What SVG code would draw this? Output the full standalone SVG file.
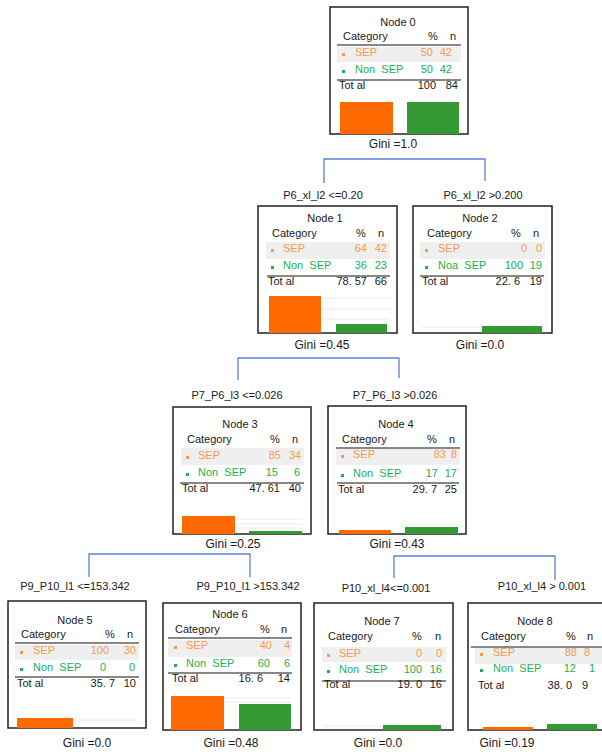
<svg xmlns="http://www.w3.org/2000/svg" width="602" height="752" viewBox="0 0 602 752">
<style>
text{font-family:"Liberation Sans",Arial,sans-serif;font-size:11px;fill:#1a1a1a}
.m{text-anchor:middle}
.e{text-anchor:end}
.sep{fill:#f59a4e}
.non{fill:#1cb050}
.box{fill:#fff;stroke:#222;stroke-width:1.5}
.row{fill:#efefef}
.ln{stroke:#111;stroke-width:1.2}
.ob{fill:#ff6a00}
.gb{fill:#339933}
.bo{fill:#f59a4e}
.bn{fill:#1cb050}
.grid{stroke:#ececec;stroke-width:1}
.conn{fill:none;stroke:#5b82d6;stroke-width:1.3}
.gini{font-size:12px}
</style>
<rect width="602" height="752" fill="#fff"/>
<g id="connectors">
<path class="conn" d="M324,183 V159 H485 V181"/>
<path class="conn" d="M238,380 V358 H399 V378"/>
<path class="conn" d="M89,577 V554 H250 V577"/>
<path class="conn" d="M394,578 V556 H555 V580"/>
<text class="m" x="323" y="199">P6_xl_l2 &lt;=0.20</text>
<text class="m" x="483" y="199">P6_xl_l2 &gt;0.200</text>
<text class="m" x="237" y="399">P7_P6_l3 &lt;=0.026</text>
<text class="m" x="395" y="399">P7_P6_l3 &gt;0.026</text>
<text class="m" x="75" y="590">P9_P10_l1 &lt;=153.342</text>
<text class="m" x="248" y="590">P9_P10_l1 &gt;153.342</text>
<text class="m" x="386" y="592">P10_xl_l4&lt;=0.001</text>
<text class="m" x="542" y="590">P10_xl_l4 &gt; 0.001</text>
</g>
<g id="node0" transform="translate(330,7)">
<rect class="box" x="0" y="0" width="138" height="127"/>
<text class="m" x="68" y="19">Node 0</text>
<text x="13" y="33">Category</text><text class="m" x="103" y="33">%</text><text class="m" x="123" y="33">n</text>
<line class="ln" x1="7" y1="38" x2="131" y2="38"/>
<rect class="row" x="7" y="40" width="124" height="15"/>
<rect class="bo" x="12" y="46" width="3" height="3"/><text class="sep" x="25" y="49">SEP</text><text class="sep e" x="103" y="49">50</text><text class="sep e" x="122" y="49">42</text>
<rect class="bn" x="12" y="63" width="3" height="3"/><text class="non" x="25" y="66" xml:space="preserve">Non  SEP</text><text class="non e" x="103" y="66">50</text><text class="non e" x="122" y="66">42</text>
<line class="ln" x1="7" y1="73" x2="131" y2="73"/>
<text x="9" y="82">Tot al</text><text class="e" x="106" y="82">100</text><text class="e" x="128" y="82">84</text>
<rect class="ob" x="10" y="95" width="53" height="32"/>
<rect class="gb" x="77" y="95" width="52" height="32"/>
<text class="m gini" x="63" y="141">Gini =1.0</text>
</g>
<g id="node1" transform="translate(258,206)">
<rect class="box" x="0" y="0" width="139" height="127"/>
<text class="m" x="67" y="16">Node 1</text>
<text x="14" y="31">Category</text><text class="m" x="103" y="31">%</text><text class="m" x="123" y="31">n</text>
<rect class="row" x="8" y="36" width="124" height="17"/>
<rect class="bo" x="13" y="43" width="3" height="3"/><text class="sep" x="25" y="46">SEP</text><text class="sep e" x="109" y="46">64</text><text class="sep e" x="129" y="46">42</text>
<rect class="bn" x="13" y="60" width="3" height="3"/><text class="non" x="25" y="63" xml:space="preserve">Non  SEP</text><text class="non e" x="109" y="63">36</text><text class="non e" x="129" y="63">23</text>
<line class="ln" x1="9" y1="70" x2="132" y2="70"/>
<text x="10" y="79">Tot al</text><text class="e" x="109" y="79">78. 57</text><text class="e" x="129" y="79">66</text>
<line class="grid" x1="63" y1="92" x2="132" y2="92"/><line class="grid" x1="63" y1="103" x2="132" y2="103"/><line class="grid" x1="63" y1="113" x2="132" y2="113"/>
<rect class="ob" x="11" y="90" width="52" height="37"/>
<rect class="gb" x="78" y="118" width="51" height="9"/>
<text class="m gini" x="64" y="143">Gini =0.45</text>
</g>
<g id="node2" transform="translate(413,206)">
<rect class="box" x="0" y="0" width="139" height="127"/>
<text class="m" x="67" y="16">Node 2</text>
<text x="14" y="31">Category</text><text class="m" x="103" y="31">%</text><text class="m" x="123" y="31">n</text>
<rect class="row" x="7" y="36" width="125" height="17"/>
<rect class="bo" x="12" y="43" width="3" height="3"/><text class="sep" x="25" y="46">SEP</text><text class="sep e" x="114" y="46">0</text><text class="sep e" x="129" y="46">0</text>
<rect class="bn" x="12" y="60" width="3" height="3"/><text class="non" x="25" y="63" xml:space="preserve">Noa  SEP</text><text class="non e" x="110" y="63">100</text><text class="non e" x="129" y="63">19</text>
<line class="ln" x1="7" y1="70" x2="131" y2="70"/>
<text x="9" y="79">Tot al</text><text class="e" x="107" y="79">22. 6</text><text class="e" x="129" y="79">19</text>
<line class="grid" x1="9" y1="121" x2="69" y2="121"/>
<rect class="gb" x="69" y="120" width="60" height="7"/>
<text class="m gini" x="67" y="143">Gini =0.0</text>
</g>
<g id="node3" transform="translate(173,407)">
<rect class="box" x="0" y="0" width="138" height="127"/>
<text class="m" x="67" y="21">Node 3</text>
<text x="14" y="36">Category</text><text class="m" x="102" y="36">%</text><text class="m" x="122" y="36">n</text>
<rect class="row" x="8" y="41" width="123" height="17"/>
<rect class="bo" x="13" y="49" width="3" height="3"/><text class="sep" x="25" y="52">SEP</text><text class="sep e" x="108" y="52">85</text><text class="sep e" x="128" y="52">34</text>
<rect class="bn" x="13" y="66" width="3" height="3"/><text class="non" x="25" y="69" xml:space="preserve">Non  SEP</text><text class="non e" x="105" y="69">15</text><text class="non e" x="127" y="69">6</text>
<line class="ln" x1="7" y1="76" x2="131" y2="76"/>
<text x="9" y="85">Tot al</text><text class="e" x="107" y="85">47. 61</text><text class="e" x="128" y="85">40</text>
<line class="grid" x1="62" y1="112" x2="130" y2="112"/><line class="grid" x1="62" y1="117" x2="130" y2="117"/><line class="grid" x1="62" y1="121" x2="130" y2="121"/>
<rect class="ob" x="9" y="109" width="53" height="18"/>
<rect class="gb" x="76" y="124" width="53" height="3"/>
<text class="m gini" x="60" y="141">Gini =0.25</text>
</g>
<g id="node4" transform="translate(328,406)">
<rect class="box" x="0" y="0" width="138" height="128"/>
<text class="m" x="68" y="22">Node 4</text>
<text x="14" y="37">Category</text><text class="m" x="104" y="37">%</text><text class="m" x="124" y="37">n</text>
<line class="ln" x1="8" y1="42" x2="132" y2="42"/>
<rect class="row" x="8" y="43" width="124" height="16"/>
<rect class="bo" x="13" y="49" width="3" height="3"/><text class="sep" x="25" y="52">SEP</text><text class="sep e" x="118" y="52">83</text><text class="sep e" x="129" y="52">8</text>
<rect class="bn" x="13" y="68" width="3" height="3"/><text class="non" x="25" y="71" xml:space="preserve">Non  SEP</text><text class="non e" x="110" y="71">17</text><text class="non e" x="129" y="71">17</text>
<line class="ln" x1="9" y1="77" x2="131" y2="77"/>
<text x="10" y="87">Tot al</text><text class="e" x="109" y="87">29. 7</text><text class="e" x="129" y="87">25</text>
<rect class="ob" x="11" y="124" width="52" height="4"/>
<rect class="gb" x="77" y="121" width="53" height="7"/>
<text class="m gini" x="69" y="142">Gini =0.43</text>
</g>
<g id="node5" transform="translate(8,601)">
<rect class="box" x="0" y="0" width="138" height="127"/>
<text class="m" x="67" y="23">Node 5</text>
<text x="13" y="37">Category</text><text class="m" x="102" y="37">%</text><text class="m" x="122" y="37">n</text>
<line class="ln" x1="7" y1="42" x2="131" y2="42"/>
<rect class="row" x="7" y="44" width="124" height="15"/>
<rect class="bo" x="12" y="50" width="3" height="3"/><text class="sep" x="25" y="53">SEP</text><text class="sep e" x="101" y="53">100</text><text class="sep e" x="128" y="53">30</text>
<rect class="bn" x="12" y="67" width="3" height="3"/><text class="non" x="25" y="70" xml:space="preserve">Non  SEP</text><text class="non e" x="98" y="70">0</text><text class="non e" x="127" y="70">0</text>
<line class="ln" x1="7" y1="76" x2="131" y2="76"/>
<text x="9" y="86">Tot al</text><text class="e" x="107" y="86">35. 7</text><text class="e" x="128" y="86">10</text>
<line class="grid" x1="65" y1="119" x2="130" y2="119"/>
<rect class="ob" x="9" y="117" width="56" height="10"/>
<text class="m gini" x="79" y="146">Gini =0.0</text>
</g>
<g id="node6" transform="translate(163,603)">
<rect class="box" x="0" y="0" width="138" height="127"/>
<text class="m" x="67" y="15">Node 6</text>
<text x="12" y="30">Category</text><text class="m" x="102" y="30">%</text><text class="m" x="121" y="30">n</text>
<line class="ln" x1="5" y1="35" x2="129" y2="35"/>
<rect class="row" x="5" y="37" width="124" height="17"/>
<rect class="bo" x="11" y="43" width="3" height="3"/><text class="sep" x="23" y="46">SEP</text><text class="sep e" x="109" y="46">40</text><text class="sep e" x="127" y="46">4</text>
<rect class="bn" x="11" y="61" width="3" height="3"/><text class="non" x="23" y="64" xml:space="preserve">Non  SEP</text><text class="non e" x="107" y="64">60</text><text class="non e" x="127" y="64">6</text>
<line class="ln" x1="5" y1="70" x2="129" y2="70"/>
<text x="9" y="79">Tot al</text><text class="e" x="100" y="79">16. 6</text><text class="e" x="127" y="79">14</text>
<line class="grid" x1="61" y1="95" x2="128" y2="95"/><line class="grid" x1="61" y1="99" x2="128" y2="99"/>
<rect class="ob" x="8" y="93" width="53" height="34"/>
<rect class="gb" x="76" y="101" width="52" height="26"/>
<text class="m gini" x="68" y="144">Gini =0.48</text>
</g>
<g id="node7" transform="translate(314,603)">
<rect class="box" x="0" y="0" width="139" height="127"/>
<text class="m" x="68" y="22">Node 7</text>
<text x="14" y="37">Category</text><text class="m" x="103" y="37">%</text><text class="m" x="124" y="37">n</text>
<rect class="row" x="8" y="44" width="124" height="15"/>
<rect class="bo" x="13" y="51" width="3" height="3"/><text class="sep" x="25" y="54">SEP</text><text class="sep e" x="108" y="54">0</text><text class="sep e" x="128" y="54">0</text>
<rect class="bn" x="13" y="67" width="3" height="3"/><text class="non" x="25" y="70" xml:space="preserve">Non  SEP</text><text class="non e" x="108" y="70">100</text><text class="non e" x="128" y="70">16</text>
<line class="ln" x1="8" y1="78" x2="132" y2="78"/>
<text x="10" y="85">Tot al</text><text class="e" x="108" y="85">19. 0</text><text class="e" x="128" y="85">16</text>
<line class="grid" x1="9" y1="123" x2="69" y2="123"/>
<rect class="gb" x="69" y="122" width="58" height="5"/>
<text class="m gini" x="64" y="144">Gini =0.0</text>
</g>
<g id="node8" transform="translate(468,603)">
<rect x="0" y="0" width="139" height="127" fill="#fff" stroke="#555" stroke-width="2"/>
<text class="m" x="67" y="22">Node 8</text>
<text x="13" y="37">Category</text><text class="m" x="103" y="37">%</text><text class="m" x="122" y="37">n</text>
<line class="ln" x1="3" y1="44" x2="134" y2="44"/>
<rect class="row" x="7" y="45" width="127" height="16"/>
<rect class="bo" x="12" y="50" width="3" height="3"/><text class="sep" x="25" y="53">SEP</text><text class="sep e" x="109" y="53">88</text><text class="sep e" x="122" y="53">8</text>
<rect class="bn" x="12" y="66" width="3" height="3"/><text class="non" x="25" y="69" xml:space="preserve">Non  SEP</text><text class="non e" x="108" y="69">12</text><text class="non e" x="127" y="69">1</text>
<text x="10" y="86">Tot al</text><text class="e" x="104" y="86">38. 0</text><text class="e" x="120" y="86">9</text>
<rect class="ob" x="15" y="124" width="50" height="3"/>
<rect class="gb" x="79" y="121" width="50" height="6"/>
<text class="m gini" x="39" y="144">Gini =0.19</text>
</g>
</svg>
